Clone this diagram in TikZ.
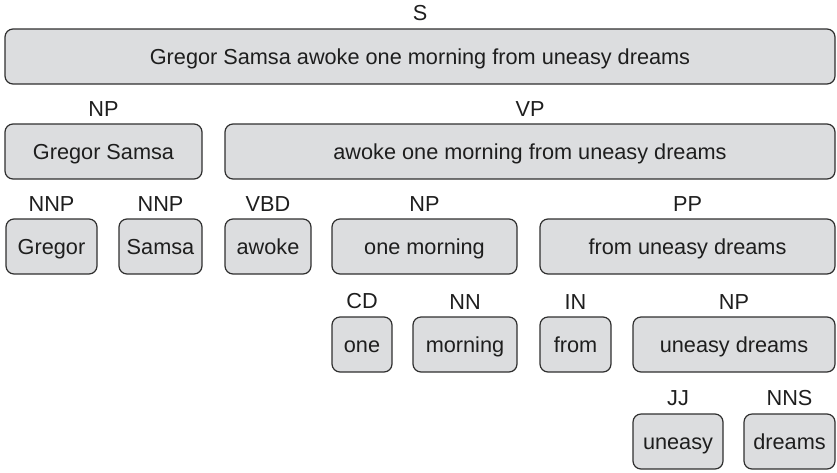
\documentclass[tikz,border=0pt]{standalone}
\usepackage{fontspec}
\setmainfont{Liberation Sans}
\begin{document}
\definecolor{boxfill}{HTML}{DCDDDF}
\definecolor{boxline}{HTML}{2F2F2F}
\definecolor{inktext}{HTML}{1E1E1E}
% a constituent box with its category label above it
% #1 name, #2 left x, #3 right x, #4 top y, #5 category, #6 words
\newcommand\treebox[6]{%
  \node[constit, minimum width={(#3-#2)*1pt}, label={[cat]above:#5}]
    (#1) at ({(#2+#3)/2}, {#4+27.5}) {#6};}
\begin{tikzpicture}[x=1pt, y=-1pt,
  constit/.style={draw=boxline, fill=boxfill, line width=1.2pt,
    rounded corners=8pt, inner sep=0pt, minimum height=55pt,
    text height=15.6pt, text depth=0pt, text=inktext,
    font=\fontsize{21.7}{26}\selectfont},
  cat/.style={inner sep=0pt, label distance=7pt, text=inktext,
    font=\fontsize{21.7}{26}\selectfont}]
  \useasboundingbox (0,0) rectangle (837,472);
  % sentence
  \treebox{s}{5}{835}{29}{S}{Gregor Samsa awoke one morning from uneasy dreams}
  % subject and predicate
  \treebox{np}{5}{202}{124}{NP}{Gregor Samsa}
  \treebox{vp}{225}{835}{124}{VP}{awoke one morning from uneasy dreams}
  % third level
  \treebox{nnpa}{6}{97}{219}{NNP}{Gregor}
  \treebox{nnpb}{119}{202}{219}{NNP}{Samsa}
  \treebox{vbd}{225}{311}{219}{VBD}{awoke}
  \treebox{npobj}{332}{517}{219}{NP}{one morning}
  \treebox{pp}{540}{835}{219}{PP}{from uneasy dreams}
  % fourth level
  \treebox{cd}{332}{392}{317}{CD}{one}
  \treebox{nn}{413}{517}{317}{NN}{morning}
  \treebox{in}{540}{611}{317}{IN}{from}
  \treebox{nppp}{633}{835}{317}{NP}{uneasy dreams}
  % leaves of the prepositional object
  \treebox{jj}{633}{723}{414}{JJ}{uneasy}
  \treebox{nns}{744}{835}{414}{NNS}{dreams}
\end{tikzpicture}
\end{document}
